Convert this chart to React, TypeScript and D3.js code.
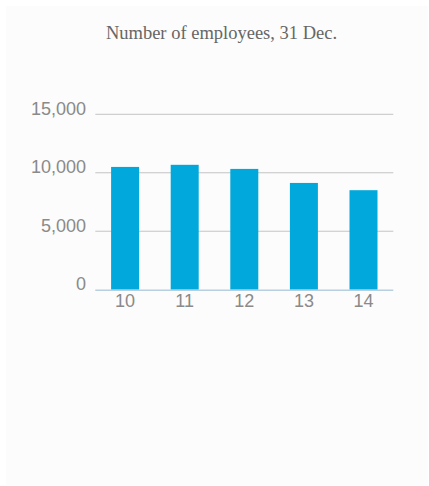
import React from "react";
import * as d3 from "d3";

const years = ["10", "11", "12", "13", "14"];
const employees = [10500, 10680, 10330, 9130, 8510];
const yTicks = [0, 5000, 10000, 15000];
const title = "Number of employees, 31 Dec.";

export default function App() {
  const W = 429;
  const H = 486;
  const x0 = 95.3, x1 = 393.3;
  const yBase = 289.7, yTop = 114.3;
  const x = d3.scaleBand<string>().domain(years).range([x0, x1]).padding(0);
  const y = d3.scaleLinear().domain([0, 15000]).range([yBase, yTop]);
  const barW = 28;
  const fmt = d3.format(",");
  return (
    <div style={{ position: "absolute", left: 0, top: 0 }}>
      <svg width={W} height={H} style={{ display: "block" }}>
        <rect x={6} y={6} width={422} height={479} fill="#fcfcfc" />
        <text
          x={221.5}
          y={39}
          textAnchor="middle"
          fontFamily="'Liberation Serif', serif"
          fontSize={18.5}
          fill="#666"
        >
          {title}
        </text>
        {yTicks.map((t) => (
          <g key={t}>
            {t > 0 && (
              <line x1={x0} x2={x1} y1={y(t)} y2={y(t)} stroke="#c4c4c4" strokeWidth={1} />
            )}
            <text
              x={86}
              y={y(t) + 0.5}
              textAnchor="end"
              fontFamily="'Liberation Sans', Arial, sans-serif"
              fontSize={18}
              fill="#8a8a8a"
            >
              {fmt(t)}
            </text>
          </g>
        ))}
        {years.map((yr, i) => {
          const cx = (x(yr) as number) + x.bandwidth() / 2;
          return (
            <rect
              key={yr}
              x={cx - barW / 2}
              y={y(employees[i])}
              width={barW}
              height={yBase - y(employees[i])}
              fill="#00a8db"
            />
          );
        })}
        <line x1={x0} x2={x1} y1={yBase + 0.5} y2={yBase + 0.5} stroke="#b8cfe0" strokeWidth={1.5} />
        {years.map((yr) => {
          const cx = (x(yr) as number) + x.bandwidth() / 2;
          return (
            <text
              key={yr}
              x={cx}
              y={307}
              textAnchor="middle"
              fontFamily="'Liberation Sans', Arial, sans-serif"
              fontSize={18}
              fill="#8a8a8a"
            >
              {yr}
            </text>
          );
        })}
      </svg>
    </div>
  );
}
